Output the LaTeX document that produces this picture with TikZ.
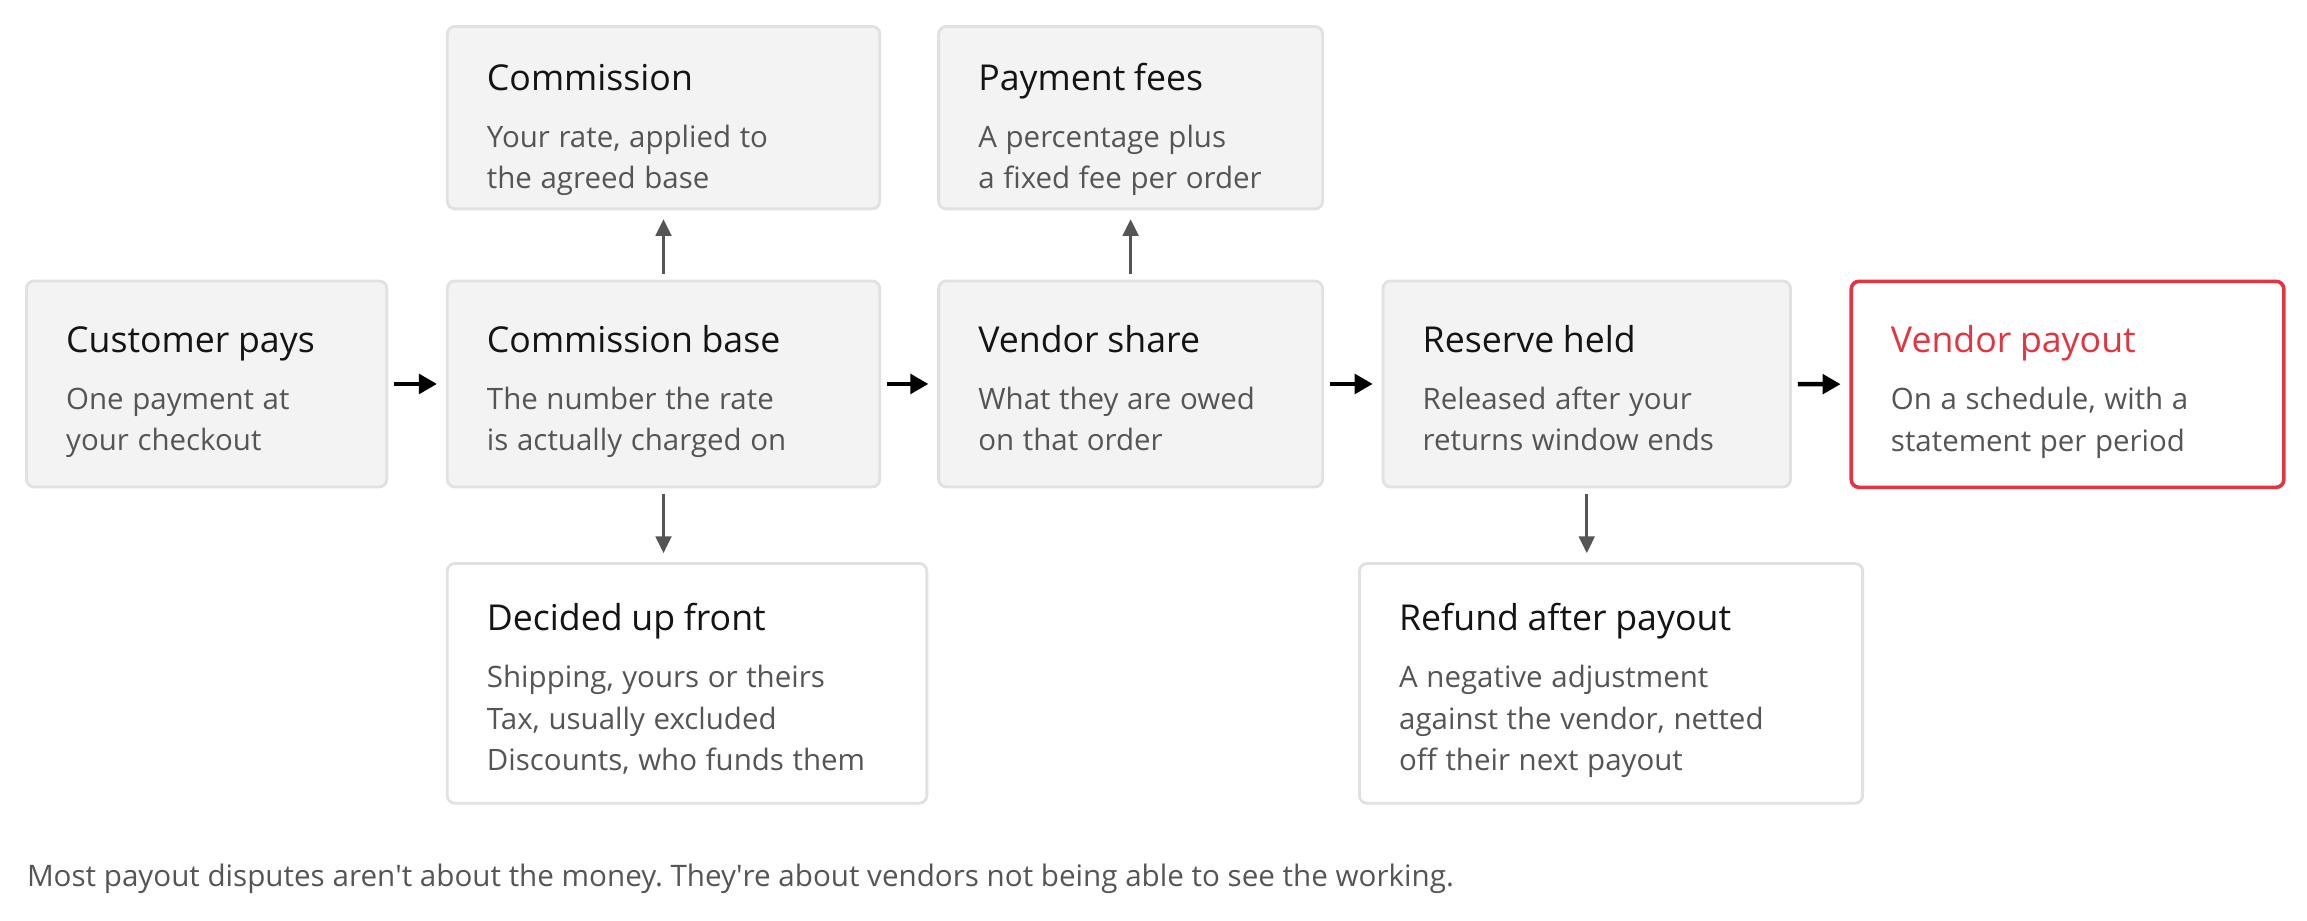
\documentclass[tikz,border=0pt]{standalone}
\usepackage{fontspec}
\setmainfont{Open Sans}
\usetikzlibrary{arrows.meta}

\definecolor{boxfill}{HTML}{F3F3F3}
\definecolor{boxline}{HTML}{E1E1E1}
\definecolor{titlecol}{HTML}{141414}
\definecolor{bodycol}{HTML}{555555}
\definecolor{paycol}{HTML}{E3343F}
\definecolor{sidecol}{HTML}{555555}

% #1 = extra room above the title
\newcommand{\boxtext}[3][0pt]{\fontsize{13.8}{16}\selectfont\color{titlecol}\rule{0pt}{\dimexpr10.6pt+#1\relax}#2\par
  \vspace{6.2pt}\fontsize{11.4}{15.9}\selectfont\color{bodycol}#3\strut\par}

\tikzset{
  box/.style={draw=boxline, fill=boxfill, line width=1.1pt, rounded corners=3pt,
    anchor=north west, align=left, inner xsep=0.54cm, inner ysep=0pt},
  openbox/.style={box, fill=white},
  paybox/.style={box, fill=white, draw=paycol, line width=1.4pt},
  flow/.style={draw=black, line width=1.7pt, -{Triangle[length=7pt,width=7.5pt]},
    shorten <=0.08cm, shorten >=0.12cm},
  side/.style={draw=sidecol, line width=1.3pt, -{Triangle[length=6.5pt,width=6pt]},
    shorten <=0.08cm, shorten >=0.12cm}
}

\begin{document}
\frenchspacing
\begin{tikzpicture}
\useasboundingbox (0,0) rectangle (31.36,-12.506);

% main row
\node[box, text width=3.82cm, minimum height=2.8cm] (cust) at (0.34,-3.8)
  {\boxtext[7.8pt]{Customer pays}{One payment at\\your checkout}};
\node[box, text width=4.8cm, minimum height=2.8cm] (cbase) at (6.06,-3.8)
  {\boxtext[7.8pt]{Commission base}{The number the rate\\is actually charged on}};
\node[box, text width=4.14cm, minimum height=2.8cm] (vshare) at (12.74,-3.8)
  {\boxtext[7.8pt]{Vendor share}{What they are owed\\on that order}};
\node[box, text width=4.46cm, minimum height=2.8cm] (reserve) at (18.78,-3.8)
  {\boxtext[7.8pt]{Reserve held}{Released after your\\returns window ends}};
\node[paybox, text width=4.8cm, minimum height=2.8cm] (payout) at (25.14,-3.8)
  {\boxtext[7.8pt]{\color{paycol}Vendor payout}{On a schedule, with a\\statement per period}};

% top row
\node[box, text width=4.8cm, minimum height=2.48cm] (comm) at (6.06,-0.34)
  {\boxtext[11.2pt]{Commission}{Your rate, applied to\\the agreed base}};
\node[box, text width=4.14cm, minimum height=2.48cm] (fees) at (12.74,-0.34)
  {\boxtext[11.2pt]{Payment fees}{A percentage plus\\a fixed fee per order}};

% bottom row
\node[openbox, text width=5.44cm, minimum height=3.26cm] (decided) at (6.06,-7.64)
  {\boxtext[7.4pt]{Decided up front}{Shipping, yours or theirs\\Tax, usually excluded\\Discounts, who funds them}};
\node[openbox, text width=5.76cm, minimum height=3.26cm] (refund) at (18.46,-7.64)
  {\boxtext[7.4pt]{Refund after payout}{A negative adjustment\\against the vendor, netted\\off their next payout}};

\node[anchor=west, inner sep=0pt, text=bodycol, font=\fontsize{11.45}{13}\selectfont] (note) at (0.36,-11.94)
  {Most payout disputes aren\textquotesingle t about the money. They\textquotesingle re about vendors not being able to see the working.};

\draw[flow] (cust) -- (cbase);
\draw[flow] (cbase) -- (vshare);
\draw[flow] (vshare) -- (reserve);
\draw[flow] (reserve) -- (payout);

\draw[side] (cbase.north) -- (comm.south);
\draw[side] (vshare.north) -- (fees.south);
\draw[side] (cbase.south) -- (cbase.south |- decided.north);
\draw[side] (reserve.south) -- (reserve.south |- refund.north);
\end{tikzpicture}
\end{document}
